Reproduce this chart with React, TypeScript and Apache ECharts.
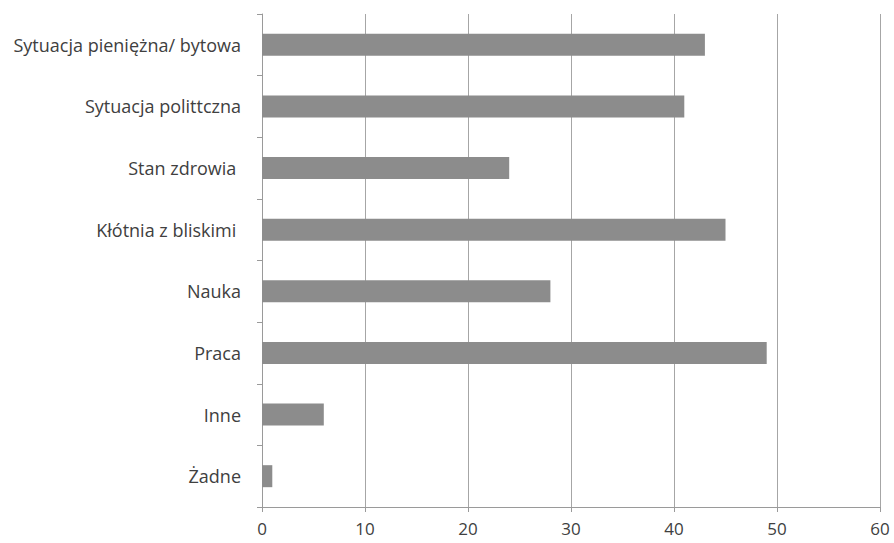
import React, { useEffect, useRef } from "react";
import * as echarts from "echarts";

// Categories, top to bottom
const categories: string[] = [
  "Sytuacja pieniężna/ bytowa",
  "Sytuacja polittczna",
  "Stan zdrowia ",
  "Kłótnia z bliskimi ",
  "Nauka",
  "Praca",
  "Inne",
  "Żadne",
];

// Number of responses per category
const values: number[] = [43, 41, 24, 45, 28, 49, 6, 1];

// Value axis range
const axisMin = 0;
const axisMax = 60;
const axisStep = 10;

const FONT = "'Open Sans', 'Liberation Sans', sans-serif";

export default function App() {
  const ref = useRef<HTMLDivElement>(null);

  useEffect(() => {
    if (!ref.current) return;
    const chart = echarts.init(ref.current, null, { renderer: "svg" });
    chart.setOption({
      animation: false,
      backgroundColor: "#ffffff",
      grid: { left: 262, right: 14, top: 14, bottom: 36, containLabel: false },
      xAxis: {
        type: "value",
        min: axisMin,
        max: axisMax,
        interval: axisStep,
        axisLine: { show: true, lineStyle: { color: "#9a9a9a", width: 1 } },
        axisTick: { show: true, length: 5, lineStyle: { color: "#9a9a9a" } },
        splitLine: { show: true, lineStyle: { color: "#a6a6a6", width: 1 } },
        axisLabel: {
          color: "#404040",
          fontFamily: FONT,
          fontSize: 17,
          margin: 13,
        },
      },
      yAxis: {
        type: "category",
        data: categories,
        inverse: true,
        axisLine: { show: true, lineStyle: { color: "#9a9a9a", width: 1 } },
        axisTick: { show: true, length: 5, lineStyle: { color: "#9a9a9a" } },
        axisLabel: {
          color: "#404040",
          fontFamily: FONT,
          fontSize: 18,
          margin: 21,
        },
      },
      series: [
        {
          type: "bar",
          data: values,
          barWidth: 22,
          itemStyle: { color: "#8c8c8c" },
        },
      ],
    });
    return () => chart.dispose();
  }, []);

  return (
    <div
      ref={ref}
      style={{ position: "absolute", left: 0, top: 0, width: 894, height: 543 }}
    />
  );
}
